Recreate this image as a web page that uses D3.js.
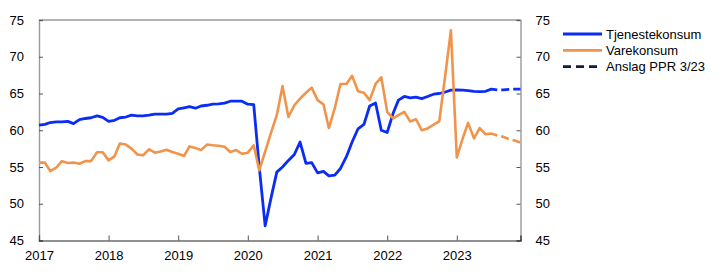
<!DOCTYPE html>
<html>
<head>
<meta charset="utf-8">
<script src="https://cdn.jsdelivr.net/npm/d3@7"></script>
<style>
  html, body { margin: 0; padding: 0; background: #fff; }
  svg { display: block; font-family: "Liberation Sans", Arial, Helvetica, sans-serif; }
</style>
</head>
<body>
<svg id="chart" width="722" height="278"></svg>
<script>
// ---- Data (monthly, starting January 2017) ----
const startMonth = "2017-01";
const tjenestekonsum = [
  60.7, 60.8, 61.05, 61.15, 61.15, 61.2, 60.9, 61.45, 61.6, 61.7, 61.95, 61.75,
  61.2, 61.35, 61.7, 61.8, 62.05, 61.95, 61.95, 62.05, 62.2, 62.2, 62.2, 62.3,
  62.9, 63.05, 63.2, 63.0, 63.3, 63.4, 63.55, 63.6, 63.7, 63.95, 63.95, 63.95,
  63.55, 63.5, 55.0, 47.0, 50.7, 54.3, 55.0, 55.9, 56.7, 58.4, 55.5, 55.6,
  54.2, 54.4, 53.8, 53.9, 54.8, 56.4, 58.4, 60.2, 60.8, 63.3, 63.7, 60.0,
  59.7, 62.3, 64.1, 64.6, 64.4, 64.5, 64.3, 64.6, 64.9, 65.0, 65.2, 65.45,
  65.5, 65.45, 65.4, 65.3, 65.25, 65.3, 65.6, 65.5
];
const varekonsum = [
  55.6, 55.6, 54.45, 54.9, 55.8, 55.55, 55.6, 55.45, 55.8, 55.8, 57.0, 57.0,
  55.9, 56.45, 58.2, 58.05, 57.5, 56.7, 56.6, 57.4, 56.95, 57.1, 57.35, 57.05,
  56.8, 56.5, 57.8, 57.6, 57.3, 58.05, 57.95, 57.9, 57.75, 57.05, 57.3, 56.8,
  56.95, 57.95, 54.55, 57.1, 59.6, 62.05, 66.0, 61.8, 63.4, 64.3, 65.1, 65.8,
  64.1, 63.5, 60.3, 63.0, 66.3, 66.3, 67.4, 65.3, 65.1, 64.1, 66.3, 67.2,
  62.5, 61.6, 62.05, 62.5, 61.2, 61.5, 60.0, 60.25, 60.75, 61.2, 67.4, 73.6,
  56.3, 58.9, 61.0, 58.9, 60.3, 59.45, 59.55, 59.3
];
// Projection PPR 3/23 (August 2023 - December 2023)
const anslagStart = "2023-08";
const anslagTjeneste = [65.5, 65.5, 65.55, 65.6, 65.6];
const anslagVare = [59.3, 59.1, 58.8, 58.6, 58.3];

const yearTicks = [2017, 2018, 2019, 2020, 2021, 2022, 2023];
const yTicks = [45, 50, 55, 60, 65, 70, 75];
const legendLabels = ["Tjenestekonsum", "Varekonsum", "Anslag PPR 3/23"];

// ---- Helpers ----
const parseMonth = d3.timeParse("%Y-%m");
function toSeries(start, values) {
  const s = parseMonth(start);
  return values.map((v, i) => ({ date: d3.timeMonth.offset(s, i), value: v }));
}
const sT = toSeries(startMonth, tjenestekonsum);
const sV = toSeries(startMonth, varekonsum);
const pT = toSeries(anslagStart, anslagTjeneste);
const pV = toSeries(anslagStart, anslagVare);

// ---- Layout ----
const svg = d3.select("#chart");
const m = { left: 39, right: 520.5, top: 20, bottom: 240.5 };
const blue = "#0a2cf5";
const orange = "#f0944b";
const navy = "#0c1f3d";
const axisGrey = "#9a9a9a";

const x = d3.scaleTime()
  .domain([parseMonth("2017-01"), parseMonth("2023-12")])
  .range([m.left, m.right]);
const y = d3.scaleLinear().domain([45, 75]).range([m.bottom, m.top]);

// frame: top (grey)
svg.append("line").attr("x1", m.left).attr("x2", m.right).attr("y1", m.top).attr("y2", m.top)
  .attr("stroke", axisGrey).attr("stroke-width", 1.6);

// Left axis
const leftAxis = svg.append("g").attr("transform", `translate(${m.left},0)`)
  .call(d3.axisLeft(y).tickValues(yTicks).tickSize(-4).tickPadding(15).tickFormat(d3.format("d")));
leftAxis.select(".domain").attr("stroke", axisGrey).attr("stroke-width", 1.4);
leftAxis.selectAll(".tick line").attr("stroke", "#555");
leftAxis.selectAll("text").attr("font-size", 13).attr("fill", "#000")
  .attr("font-family", "Liberation Sans, Arial, sans-serif");

// Right axis
const rightAxis = svg.append("g").attr("transform", `translate(${m.right},0)`)
  .call(d3.axisRight(y).tickValues(yTicks).tickSize(-4).tickPadding(15).tickFormat(d3.format("d")));
rightAxis.select(".domain").attr("stroke", axisGrey).attr("stroke-width", 1.4);
rightAxis.selectAll(".tick line").attr("stroke", "#555");
rightAxis.selectAll("text").attr("font-size", 13).attr("fill", "#000")
  .attr("font-family", "Liberation Sans, Arial, sans-serif");

// Bottom axis
const bottomAxis = svg.append("g").attr("transform", `translate(0,${m.bottom})`)
  .call(d3.axisBottom(x)
    .tickValues(yearTicks.map(yr => new Date(yr, 0, 1)))
    .tickSize(-5).tickPadding(10).tickFormat(d3.timeFormat("%Y")));
bottomAxis.select(".domain").attr("stroke", "#222").attr("stroke-width", 1.2);
bottomAxis.selectAll(".tick line").attr("stroke", "#555");
bottomAxis.selectAll("text").attr("font-size", 13).attr("fill", "#000")
  .attr("font-family", "Liberation Sans, Arial, sans-serif");

// ---- Lines ----
const line = d3.line().x(d => x(d.date)).y(d => y(d.value));

svg.append("path").datum(sT).attr("d", line)
  .attr("fill", "none").attr("stroke", blue).attr("stroke-width", 2.8)
  .attr("stroke-linejoin", "round");
svg.append("path").datum(sV).attr("d", line)
  .attr("fill", "none").attr("stroke", orange).attr("stroke-width", 2.6)
  .attr("stroke-linejoin", "round");

svg.append("path").datum(pT).attr("d", line)
  .attr("fill", "none").attr("stroke", blue).attr("stroke-width", 2.8)
  .attr("stroke-dasharray", "8,4").attr("stroke-dashoffset", -4);
svg.append("path").datum(pV).attr("d", line)
  .attr("fill", "none").attr("stroke", orange).attr("stroke-width", 2.6)
  .attr("stroke-dasharray", "8,4").attr("stroke-dashoffset", -4);

// ---- Legend ----
const legend = svg.append("g").attr("font-family", "Liberation Sans, Arial, sans-serif");
const legendItems = [
  { label: legendLabels[0], color: blue, dash: null },
  { label: legendLabels[1], color: orange, dash: null },
  { label: legendLabels[2], color: navy, dash: "8,5" }
];
legendItems.forEach((it, i) => {
  const ly = 34 + i * 16.3;
  legend.append("line").attr("x1", 563).attr("x2", 602).attr("y1", ly).attr("y2", ly)
    .attr("stroke", it.color).attr("stroke-width", 2.8)
    .attr("stroke-dasharray", it.dash);
  legend.append("text").attr("x", 606).attr("y", ly).attr("dy", "0.35em")
    .attr("font-size", 13).attr("fill", "#000").text(it.label);
});
</script>
</body>
</html>
